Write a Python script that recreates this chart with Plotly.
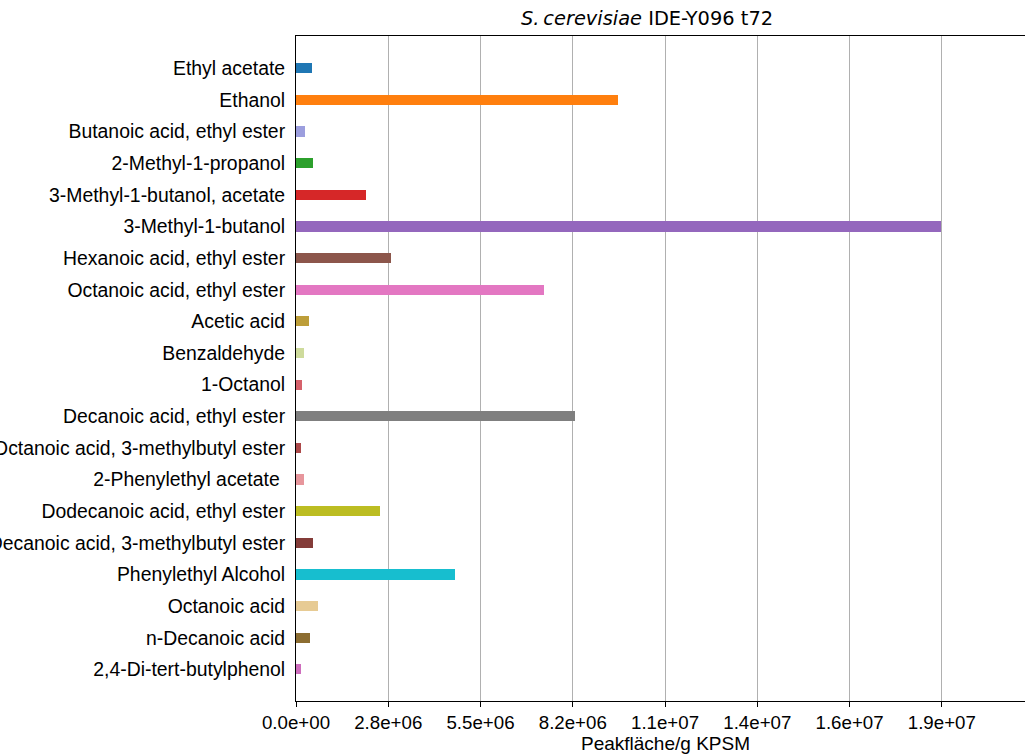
import plotly.graph_objects as go

# Volatile compounds (top to bottom) and their normalised peak areas
compounds = [
    "Ethyl acetate",
    "Ethanol",
    "Butanoic acid, ethyl ester",
    "2-Methyl-1-propanol",
    "3-Methyl-1-butanol, acetate",
    "3-Methyl-1-butanol",
    "Hexanoic acid, ethyl ester",
    "Octanoic acid, ethyl ester",
    "Acetic acid",
    "Benzaldehyde",
    "1-Octanol",
    "Decanoic acid, ethyl ester",
    "Octanoic acid, 3-methylbutyl ester",
    "2-Phenylethyl acetate\u00a0",
    "Dodecanoic acid, ethyl ester",
    "Decanoic acid, 3-methylbutyl ester",
    "Phenylethyl Alcohol",
    "Octanoic acid",
    "n-Decanoic acid",
    "2,4-Di-tert-butylphenol",
]

peak_area = [
    4.9e5, 9.61e6, 2.8e5, 5.2e5, 2.10e6,
    1.922e7, 2.82e6, 7.38e6, 4.0e5, 2.5e5,
    1.9e5, 8.33e6, 1.6e5, 2.5e5, 2.49e6,
    5.2e5, 4.73e6, 6.7e5, 4.3e5, 1.6e5,
]

bar_colors = [
    "#1f77b4", "#ff7f0e", "#9c9ede", "#2ca02c", "#d62728",
    "#9467bd", "#8c564b", "#e377c2", "#bd9e39", "#cedb9c",
    "#d6616b", "#7f7f7f", "#ad494a", "#e7969c", "#bcbd22",
    "#843c39", "#17becf", "#e7cb94", "#8c6d31", "#ce6dbd",
]

tick_values = [0, 2.75e6, 5.5e6, 8.25e6, 1.1e7, 1.375e7, 1.65e7, 1.925e7]
tick_labels = ["0.0e+00", "2.8e+06", "5.5e+06", "8.2e+06",
               "1.1e+07", "1.4e+07", "1.6e+07", "1.9e+07"]

x_max = 2.173e7
label_font = "Liberation Sans, Arial, sans-serif"

fig = go.Figure(
    go.Bar(
        x=peak_area,
        y=compounds,
        orientation="h",
        width=0.32,
        marker=dict(color=bar_colors, line=dict(width=0)),
    )
)

fig.update_layout(
    width=1025,
    height=754,
    margin=dict(l=296, r=0, t=36, b=53, autoexpand=False),
    paper_bgcolor="white",
    plot_bgcolor="white",
    showlegend=False,
    font=dict(family=label_font, size=19, color="black"),
    bargap=0,
)

fig.update_xaxes(
    range=[0, x_max],
    tickvals=tick_values,
    ticktext=tick_labels,
    ticks="outside",
    ticklen=5,
    tickwidth=1,
    tickcolor="black",
    showgrid=True,
    gridcolor="#b0b0b0",
    gridwidth=1,
    showline=True,
    linecolor="black",
    linewidth=1,
    mirror=True,
    zeroline=False,
    automargin=False,
    tickfont=dict(size=18.7),
)

fig.update_yaxes(
    type="category",
    categoryorder="array",
    categoryarray=compounds,
    range=[20.0, -1.02],
    ticks="",
    showgrid=False,
    showline=True,
    linecolor="black",
    linewidth=1,
    zeroline=False,
    automargin=False,
    ticklabelstandoff=6,
    tickfont=dict(size=19.4),
)

fig.add_annotation(
    text="<i>S.\u2009cerevisiae</i> IDE-Y096 t72",
    xref="paper", yref="paper",
    x=(646.5 - 296) / (1025 - 296), y=1.0,
    xanchor="center", yanchor="bottom",
    yshift=4,
    showarrow=False,
    font=dict(family="DejaVu Sans", size=19.4, color="black"),
)

fig.add_annotation(
    text="Peakfläche/g KPSM",
    xref="paper", yref="paper",
    x=(665.5 - 296) / (1025 - 296), y=0,
    xanchor="center", yanchor="top",
    yshift=-30,
    showarrow=False,
    font=dict(family=label_font, size=19, color="black"),
)

fig.write_html("out.html")
